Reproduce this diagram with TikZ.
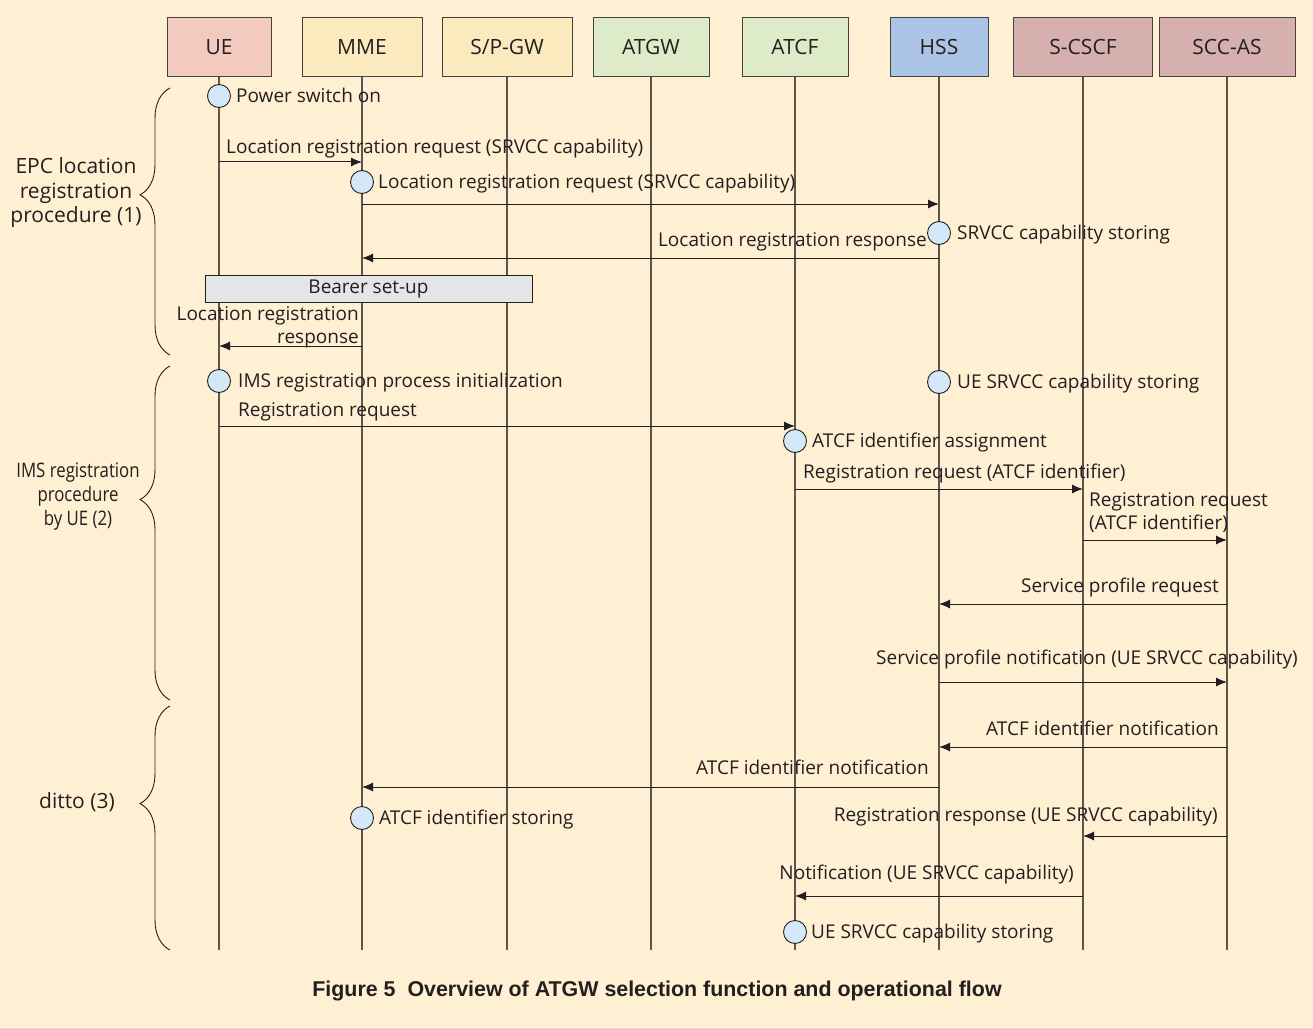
\documentclass[tikz,border=0pt]{standalone}
\usepackage{fontspec}
\setmainfont{Open Sans}
\newfontfamily\capfont{Liberation Sans Bold}
\newfontfamily\condfont[FakeStretch=0.84]{Open Sans}
\usetikzlibrary{decorations.pathreplacing,arrows.meta}
\definecolor{bg}{RGB}{255,240,212}
\definecolor{txt}{RGB}{35,31,32}
\definecolor{life}{RGB}{95,85,80}
\definecolor{ueC}{RGB}{243,203,190}
\definecolor{mmeC}{RGB}{250,234,190}
\definecolor{grC}{RGB}{222,235,200}
\definecolor{hssC}{RGB}{172,196,229}
\definecolor{csC}{RGB}{214,176,174}
\definecolor{evC}{RGB}{212,233,248}
\definecolor{bearC}{RGB}{228,229,231}
\tikzset{
  hdr/.style={draw=txt!85, line width=1pt, minimum height=59pt, inner sep=0pt,
    font=\fontsize{21}{24}\selectfont, text=txt},
  ev/.style={circle, draw=txt, fill=evC, minimum size=23pt, inner sep=0pt, line width=0.9pt},
  msg/.style={-{Latex[length=11pt,width=9pt]}, draw=txt, line width=1pt},
  lbl/.style={font=\fontsize{19}{22.5}\selectfont, text=txt, inner sep=0pt,
    text height=14pt, text depth=5pt, yshift=-2pt},
  lifeline/.style={draw=life, line width=1.2pt},
  brc/.style={decorate, decoration={brace, amplitude=30pt, aspect=0.6}, draw=txt, line width=0.9pt},
  grp/.style={font=\fontsize{21}{24.5}\selectfont, text=txt, align=center, inner sep=0pt}
}
\begin{document}
\begin{tikzpicture}[x=1pt,y=-1pt]
\fill[bg] (0,0) rectangle (1313,1027);
\useasboundingbox (0,0) rectangle (1313,1027);
% headers
\node[hdr, fill=ueC, minimum width=104pt] (UE) at (219,47.5) {UE};
\node[hdr, fill=mmeC, minimum width=120pt] (MME) at (362,47.5) {MME};
\node[hdr, fill=mmeC, minimum width=130pt] (SGW) at (507,47.5) {S/P-GW};
\node[hdr, fill=grC, minimum width=116pt] (ATGW) at (651,47.5) {ATGW};
\node[hdr, fill=grC, minimum width=106pt] (ATCF) at (795,47.5) {ATCF};
\node[hdr, fill=hssC, minimum width=98pt] (HSS) at (939,47.5) {HSS};
\node[hdr, fill=csC, minimum width=139pt] (SCSCF) at (1083,47.5) {S-CSCF};
\node[hdr, fill=csC, minimum width=136pt] (SCCAS) at (1227,47.5) {SCC-AS};
% lifelines
\foreach \n in {UE,MME,SGW,ATGW,ATCF,HSS,SCSCF,SCCAS}
  \draw[lifeline] (\n.south) -- (\n.south |- 0,950);
% braces
\draw[brc] (170,355) -- (170,88);
\draw[brc] (170,700) -- (170,366);
\draw[brc] (170,950) -- (170,706);
\node[grp] (g1) at (76,193) {EPC location\\registration\\procedure (1)};
\node[grp, font=\condfont\fontsize{20}{24}\selectfont] (g2) at (78,497) {IMS registration\\procedure\\by UE (2)};
\node[grp] (g3) at (77,802) {ditto (3)};
% bearer
\node[draw=txt, line width=1pt, fill=bearC, minimum width=327pt, minimum height=27pt, inner sep=0pt,
  font=\fontsize{19}{22}\selectfont, text=txt] (bearer) at (368.5,288.5) {Bearer set-up};
% messages
\node[lbl, anchor=west] (L1) at (226,147) {Location registration request (SRVCC capability)};
\draw[msg] (UE |- 0,162) -- (MME |- 0,162);
\draw[msg] (MME |- 0,204) -- (HSS |- 0,204);
\node[lbl, anchor=east] (L3) at (927,240) {Location registration response};
\draw[msg] (HSS |- 0,258) -- (MME |- 0,258);
\node[lbl, anchor=east, align=right, text height=, text depth=] (L4) at (359,325.5) {Location registration\\response};
\draw[msg] (MME |- 0,346) -- (UE |- 0,346);
\node[lbl, anchor=west] (L5) at (238,410) {Registration request};
\draw[msg] (UE |- 0,426) -- (ATCF |- 0,426);
\node[lbl, anchor=west] (L6) at (803,472) {Registration request (ATCF identifier)};
\draw[msg] (ATCF |- 0,489) -- (SCSCF |- 0,489);
\node[lbl, anchor=west, align=left, text height=, text depth=] (L7) at (1089,510.5) {Registration request\\(ATCF identifier)};
\draw[msg] (SCSCF |- 0,540) -- (SCCAS |- 0,540);
\node[lbl, anchor=east] (L8) at (1219,586) {Service profile request};
\draw[msg] (SCCAS |- 0,604) -- (HSS |- 0,604);
\node[lbl, anchor=west] (L9) at (876,658) {Service profile notification (UE SRVCC capability)};
\draw[msg] (HSS |- 0,682) -- (SCCAS |- 0,682);
\node[lbl, anchor=east] (L10) at (1219,729) {ATCF identifier notification};
\draw[msg] (SCCAS |- 0,747) -- (HSS |- 0,747);
\node[lbl, anchor=east] (L11) at (929,768) {ATCF identifier notification};
\draw[msg] (HSS |- 0,787) -- (MME |- 0,787);
\node[lbl, anchor=east] (L12) at (1218,815) {Registration response (UE SRVCC capability)};
\draw[msg] (SCCAS |- 0,836) -- (SCSCF |- 0,836);
\node[lbl, anchor=east] (L13) at (1074,873) {Notification (UE SRVCC capability)};
\draw[msg] (SCSCF |- 0,896) -- (ATCF |- 0,896);
% events
\node[ev] (e1) at (219,96) {};
\node[lbl, anchor=west] (t1) at (236,96) {Power switch on};
\node[ev] (e2) at (362,182) {};
\node[lbl, anchor=west] (t2) at (378,182) {Location registration request (SRVCC capability)};
\node[ev] (e3) at (939,233) {};
\node[lbl, anchor=west] (t3) at (957,233) {SRVCC capability storing};
\node[ev] (e4) at (219,381) {};
\node[lbl, anchor=west] (t4) at (238,381) {IMS registration process initialization};
\node[ev] (e5) at (939,382) {};
\node[lbl, anchor=west] (t5) at (957,382) {UE SRVCC capability storing};
\node[ev] (e6) at (795,441) {};
\node[lbl, anchor=west] (t6) at (812,441) {ATCF identifier assignment};
\node[ev] (e7) at (362,818) {};
\node[lbl, anchor=west] (t7) at (379,818) {ATCF identifier storing};
\node[ev] (e8) at (795,932) {};
\node[lbl, anchor=west] (t8) at (811,932) {UE SRVCC capability storing};
% caption
\node[font=\capfont\fontsize{21.4}{24}\selectfont, text=txt, inner sep=0pt, anchor=base] (cap) at (657,996.7)
  {Figure 5\ \ Overview of ATGW selection function and operational flow};
\end{tikzpicture}
\end{document}
